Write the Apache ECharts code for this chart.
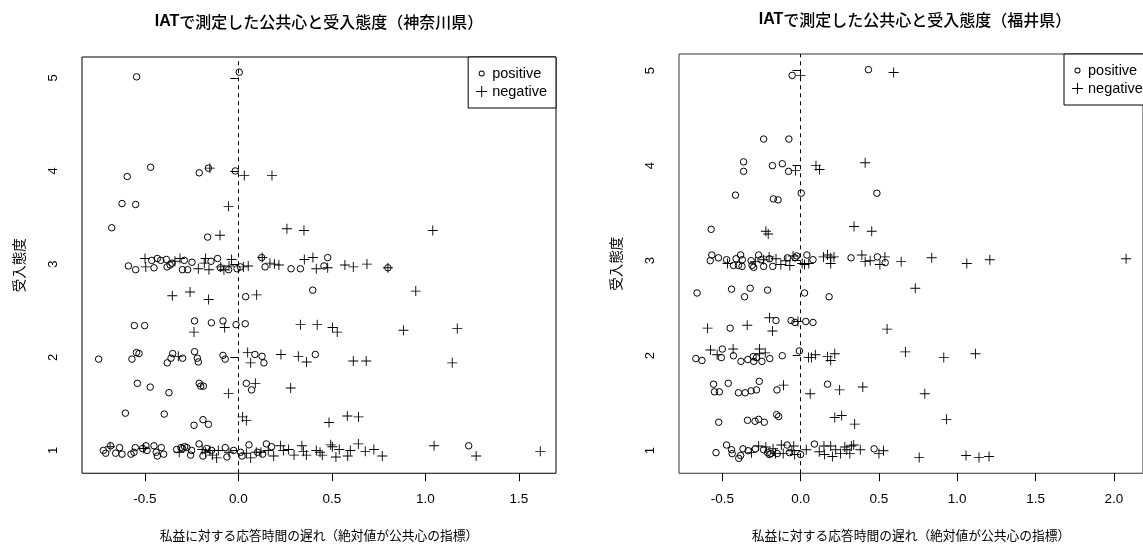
<!DOCTYPE html>
<html>
<head>
<meta charset="utf-8">
<script src="https://cdn.jsdelivr.net/npm/echarts@6/dist/echarts.min.js"></script>
<style>
html,body{margin:0;padding:0;background:#fff;}
#chart{width:1143px;height:547px;}
</style>
</head>
<body>
<div id="chart"></div>
<script>
// ---- data ----
const titleKanagawa = 'で測定した公共心と受入態度（神奈川県）';
const titleFukui = 'で測定した公共心と受入態度（福井県）';
const xName = '私益に対する応答時間の遅れ（絶対値が公共心の指標）';
const yName = '受入態度';
const seriesNames = ['positive', 'negative'];
const xTicksKanagawa = [-0.5, 0.0, 0.5, 1.0, 1.5];
const xTicksFukui = [-0.5, 0.0, 0.5, 1.0, 1.5, 2.0];
const yTicks = [1, 2, 3, 4, 5];

const kanagawaPositive = [
[-0.544,5.01],[0.005,5.06],[-0.469,4.04],[-0.594,3.94],[-0.209,3.98],[-0.16,4.03],[-0.016,4.00],[-0.622,3.65],[-0.549,3.64],[-0.677,3.39],[-0.164,3.29],
[-0.588,2.98],[-0.549,2.94],[-0.463,3.04],[-0.451,2.96],[-0.433,3.06],[-0.415,3.04],[-0.385,3.05],[-0.381,2.97],[-0.365,2.99],[-0.355,3.01],[-0.289,3.04],[-0.299,2.94],[-0.271,2.94],[-0.248,3.02],[-0.146,3.03],[-0.111,3.06],[-0.096,2.96],[-0.052,2.94],[-0.007,2.95],[0.011,2.97],[0.125,3.07],[0.143,2.97],[0.282,2.95],[0.332,2.95],[0.458,2.98],[0.478,3.07],[0.80,2.96],
[0.039,2.65],[0.398,2.72],
[-0.556,2.34],[-0.501,2.34],[-0.234,2.39],[-0.144,2.37],[-0.082,2.39],[-0.012,2.35],[0.037,2.36],
[-0.747,1.98],[-0.569,1.98],[-0.545,2.05],[-0.531,2.04],[-0.38,1.94],[-0.351,2.04],[-0.36,1.99],[-0.298,1.99],[-0.234,2.06],[-0.219,1.99],[-0.214,1.95],[-0.082,2.02],[-0.07,1.98],[0.089,2.03],[0.127,2.01],[0.137,1.94],[0.412,2.03],
[-0.54,1.72],[-0.471,1.68],[-0.371,1.62],[-0.209,1.72],[-0.201,1.69],[-0.187,1.69],[0.043,1.72],[0.071,1.65],
[-0.604,1.40],[-0.396,1.39],[-0.237,1.27],[-0.189,1.33],[-0.16,1.28],
[-0.722,1.0],[-0.709,0.97],[-0.683,1.05],[-0.656,0.97],[-0.635,1.03],[-0.622,0.96],[-0.574,0.96],[-0.558,0.98],[-0.551,1.03],[-0.512,1.02],[-0.494,1.05],[-0.488,1.0],[-0.451,1.05],[-0.439,0.98],[-0.433,0.94],[-0.412,1.03],[-0.399,0.96],[-0.33,1.01],[-0.307,1.03],[-0.298,1.02],[-0.287,1.04],[-0.275,1.03],[-0.255,0.95],[-0.25,1.0],[-0.21,1.07],[-0.189,0.94],[-0.169,1.02],[-0.143,1.0],[-0.07,1.03],[-0.061,0.93],[-0.025,1.0],[0.012,0.98],[0.02,0.94],[0.057,1.06],[0.103,0.98],[0.13,0.96],[0.15,1.07],[0.178,1.04],[1.232,1.05]
];
const kanagawaNegative = [
[-0.152,4.03],[0.032,3.95],[0.18,3.95],[-0.052,3.62],[-0.098,3.31],[0.26,3.38],[0.351,3.36],[1.04,3.36],
[-0.499,3.06],[-0.495,2.97],[-0.339,3.03],[-0.312,3.06],[-0.214,2.95],[-0.182,3.01],[-0.175,3.06],[-0.157,2.94],[-0.094,2.97],[-0.077,2.94],[-0.05,2.98],[-0.036,3.05],[0.027,2.97],[0.053,2.98],[0.128,3.07],[0.169,3.01],[0.193,3.0],[0.217,2.99],[0.353,3.05],[0.399,3.07],[0.417,2.95],[0.478,2.96],[0.57,2.99],[0.615,2.97],[0.688,3.0],[0.80,2.96],
[-0.353,2.66],[-0.258,2.70],[-0.159,2.62],[0.098,2.67],[0.949,2.71],
[-0.237,2.27],[-0.073,2.32],[0.333,2.35],[0.422,2.35],[0.504,2.32],[0.529,2.27],[0.883,2.29],[1.171,2.31],
[-0.321,2.01],[0.05,2.05],[0.066,1.94],[0.228,2.03],[0.321,2.01],[0.365,1.95],[0.615,1.96],[0.684,1.96],[1.144,1.94],
[-0.052,1.61],[0.091,1.72],[0.28,1.67],
[0.023,1.36],[0.043,1.32],[0.485,1.30],[0.583,1.37],[0.643,1.36],
[-0.686,1.04],[-0.506,1.02],[-0.316,0.98],[-0.193,1.01],[-0.175,0.98],[-0.152,1.0],[-0.139,0.95],[-0.116,0.92],[-0.107,1.0],[-0.05,0.98],[0.043,0.97],[0.066,0.92],[0.096,0.98],[0.121,0.98],[0.16,1.0],[0.189,0.94],[0.225,1.05],[0.241,1.0],[0.269,1.01],[0.298,0.95],[0.34,1.05],[0.348,0.99],[0.364,0.95],[0.417,1.0],[0.437,0.98],[0.449,0.95],[0.494,1.06],[0.503,1.04],[0.522,0.93],[0.54,1.01],[0.585,0.94],[0.599,1.0],[0.642,1.07],[0.679,0.99],[0.725,1.01],[0.77,0.94],[1.047,1.05],[1.272,0.94],[1.615,0.99]
];
const fukuiPositive = [
[-0.054,4.95],[0.433,5.01],[-0.236,4.28],[-0.075,4.28],[-0.364,4.04],[-0.364,3.94],[-0.18,4.0],[-0.117,4.02],[-0.077,3.94],[-0.416,3.69],[0.004,3.71],[-0.174,3.65],[-0.144,3.64],[0.487,3.71],[-0.571,3.33],
[-0.567,3.06],[-0.577,3.0],[-0.525,3.03],[-0.473,3.01],[-0.429,2.95],[-0.412,3.02],[-0.397,2.95],[-0.383,3.06],[-0.372,3.01],[-0.374,2.94],[-0.316,3.0],[-0.31,2.95],[-0.30,2.93],[-0.268,3.06],[-0.253,3.01],[-0.236,2.94],[-0.199,3.02],[-0.178,2.94],[-0.084,3.03],[-0.036,3.03],[-0.025,3.05],[0.04,3.06],[0.079,3.01],[0.322,3.03],[0.49,3.04],[0.54,2.98],
[-0.661,2.66],[-0.441,2.70],[-0.358,2.62],[-0.322,2.71],[-0.211,2.69],[0.025,2.66],[0.182,2.62],
[-0.45,2.29],[-0.157,2.37],[-0.061,2.37],[-0.036,2.35],[0.033,2.36],[0.079,2.35],
[-0.669,1.97],[-0.63,1.95],[-0.5,2.07],[-0.506,1.98],[-0.429,2.0],[-0.381,1.94],[-0.337,1.96],[-0.303,1.99],[-0.299,1.94],[-0.282,1.98],[-0.247,1.94],[-0.197,1.97],[-0.117,2.0],[-0.008,2.05],
[-0.556,1.70],[-0.55,1.62],[-0.519,1.62],[-0.462,1.71],[-0.397,1.61],[-0.354,1.61],[-0.316,1.63],[-0.282,1.64],[-0.264,1.73],[-0.151,1.64],[0.172,1.70],
[-0.523,1.30],[-0.339,1.32],[-0.291,1.31],[-0.268,1.33],[-0.232,1.30],[-0.153,1.38],[-0.14,1.36],
[-0.54,0.98],[-0.473,1.06],[-0.441,1.01],[-0.437,0.97],[-0.395,0.92],[-0.383,0.95],[-0.368,1.02],[-0.335,1.0],[-0.289,1.02],[-0.236,1.01],[-0.211,0.98],[-0.199,0.96],[-0.19,0.97],[-0.149,0.97],[-0.086,1.06],[-0.071,0.98],[0.0,0.96],[0.088,1.07],[0.469,1.02]
];
const fukuiNegative = [
[0.0,4.95],[0.594,4.98],[-0.033,3.95],[0.098,4.0],[0.121,3.96],[0.412,4.03],[-0.222,3.31],[-0.207,3.28],[0.341,3.36],[0.454,3.31],
[-0.467,2.97],[-0.289,2.99],[-0.236,3.01],[-0.201,3.04],[-0.157,3.02],[-0.126,2.96],[-0.094,3.0],[-0.069,2.95],[-0.048,3.05],[0.01,2.97],[0.025,2.96],[0.052,2.97],[0.146,3.04],[0.172,3.06],[0.192,3.03],[0.192,2.97],[0.213,3.04],[0.391,3.06],[0.412,2.99],[0.444,3.0],[0.506,2.96],[0.538,3.04],[0.642,2.99],[0.837,3.03],[1.061,2.97],[1.208,3.01],[2.078,3.02],
[0.732,2.71],
[-0.594,2.29],[-0.341,2.32],[-0.199,2.40],[-0.18,2.26],[-0.017,2.36],[0.552,2.28],
[-0.575,2.06],[-0.533,2.01],[-0.431,2.07],[-0.262,2.07],[-0.262,2.02],[-0.226,2.03],[0.05,1.98],[0.069,1.98],[0.094,2.01],[0.172,1.99],[0.192,1.95],[0.218,2.02],[0.669,2.04],[0.914,1.98],[1.116,2.02],
[-0.109,1.69],[0.061,1.60],[0.249,1.64],[0.397,1.67],[0.793,1.60],
[0.218,1.35],[0.262,1.37],[0.345,1.28],[0.931,1.33],
[-0.314,0.98],[-0.268,1.05],[-0.222,1.04],[-0.176,1.02],[-0.16,0.97],[-0.123,1.06],[-0.111,0.97],[-0.056,1.0],[-0.044,1.05],[-0.038,0.96],[0.036,1.01],[0.119,0.99],[0.149,1.05],[0.153,0.96],[0.192,1.05],[0.203,0.94],[0.224,1.01],[0.255,0.97],[0.282,1.04],[0.295,1.01],[0.314,0.97],[0.324,1.05],[0.339,1.06],[0.381,1.01],[0.5,0.97],[0.529,1.00],[0.757,0.93],[1.056,0.95],[1.139,0.93],[1.203,0.94]
];

// ---- styling ----
const LATIN = 'Liberation Sans, Arial, sans-serif';
const CJK = 'Noto Sans CJK JP, sans-serif';
const PLUS = 'path://M5,0H6V5H11V6H6V11H5V6H0V5H5Z';
// small ring inside a 11x11 box (the box corners only pad the icon)
const RING_ICON = 'path://M0,0M11,11M8.5,5.5A3,3 0 1 0 2.5,5.5A3,3 0 1 0 8.5,5.5Z M7.6,5.5A2.1,2.1 0 1 1 3.4,5.5A2.1,2.1 0 1 1 7.6,5.5Z';

function xAxisCfg(gi, min, max, ticks) {
  return {
    gridIndex: gi, type: 'value', min: min, max: max,
    splitLine: {show: false}, axisLine: {show: false},
    axisTick: {show: true, length: 8, customValues: ticks, lineStyle: {color: '#000', width: 1}},
    axisLabel: {customValues: ticks, formatter: v => v.toFixed(1), margin: 19, fontSize: 13.5, color: '#000', fontFamily: LATIN},
    name: xName, nameLocation: 'middle', nameGap: 56,
    nameTextStyle: {fontSize: 12.75, color: '#000', fontFamily: CJK}
  };
}
function yAxisCfg(gi, min, max) {
  return {
    gridIndex: gi, type: 'value', min: min, max: max,
    splitLine: {show: false}, axisLine: {show: false},
    axisTick: {show: true, length: 8, customValues: yTicks, lineStyle: {color: '#000', width: 1}},
    axisLabel: {customValues: yTicks, rotate: 90, margin: 22, fontSize: 13, color: '#000', fontFamily: LATIN},
    name: yName, nameLocation: 'middle', nameGap: 56,
    nameTextStyle: {fontSize: 13.5, color: '#000', fontFamily: CJK}
  };
}
function circleSeries(idx, data) {
  return {
    name: seriesNames[0], type: 'scatter', xAxisIndex: idx, yAxisIndex: idx, data: data,
    symbol: 'circle', symbolSize: 6.5,
    itemStyle: {color: 'rgba(255,255,255,0)', borderColor: '#000', borderWidth: 1, opacity: 1},
    emphasis: {disabled: true}, silent: true
  };
}
function plusSeries(idx, data) {
  return {
    name: seriesNames[1], type: 'scatter', xAxisIndex: idx, yAxisIndex: idx, data: data,
    symbol: PLUS, symbolSize: 10,
    itemStyle: {color: '#000', opacity: 1},
    emphasis: {disabled: true}, silent: true,
    markLine: {
      silent: true, symbol: ['none', 'none'], label: {show: false},
      lineStyle: {type: [4, 4], color: '#000', width: 1},
      data: [{xAxis: 0}], animation: false
    }
  };
}
function legendCfg(pos) {
  return Object.assign({
    data: [
      {name: seriesNames[0], icon: RING_ICON, itemStyle: {color: '#000', borderWidth: 0, opacity: 1}},
      {name: seriesNames[1], icon: PLUS, itemStyle: {color: '#000', borderWidth: 0, opacity: 1}}
    ],
    orient: 'vertical', itemGap: 3, itemWidth: 11, itemHeight: 11,
    padding: [9, 9, 9, 8], backgroundColor: '#fff', borderColor: '#000', borderWidth: 1,
    borderRadius: 0, selectedMode: false,
    textStyle: {fontSize: 14.5, color: '#000', fontFamily: LATIN}
  }, pos);
}
const titleRich = {
  b: {fontFamily: LATIN, fontWeight: 'bold', fontSize: 16, color: '#000'},
  n: {fontFamily: CJK, fontWeight: 500, fontSize: 16, color: '#000'}
};

const chart = echarts.init(document.getElementById('chart'), null, {renderer: 'canvas'});
chart.setOption({
  backgroundColor: '#fff',
  animation: false,
  title: [
    {text: '{b|IAT}{n|' + titleKanagawa + '}', left: 314, top: 9, textAlign: 'center', textStyle: {rich: titleRich}},
    {text: '{b|IAT}{n|' + titleFukui + '}', left: 910, top: 7, textAlign: 'center', textStyle: {rich: titleRich}}
  ],
  legend: [
    legendCfg({right: 587, top: 57}),
    legendCfg({left: 1064, top: 54})
  ],
  grid: [
    {left: 82, top: 57, width: 474, height: 420, show: true, borderColor: '#000', borderWidth: 1, backgroundColor: 'transparent', containLabel: false},
    {left: 679, top: 54, width: 472, height: 422, show: true, borderColor: '#333', borderWidth: 1, backgroundColor: 'transparent', containLabel: false}
  ],
  xAxis: [
    xAxisCfg(0, -0.836, 1.699, xTicksKanagawa),
    xAxisCfg(1, -0.7765, 2.186, xTicksFukui)
  ],
  yAxis: [
    yAxisCfg(0, 0.755, 5.223),
    yAxisCfg(1, 0.763, 5.175)
  ],
  series: [
    circleSeries(0, kanagawaPositive),
    plusSeries(0, kanagawaNegative),
    circleSeries(1, fukuiPositive),
    plusSeries(1, fukuiNegative)
  ]
});
</script>
</body>
</html>
